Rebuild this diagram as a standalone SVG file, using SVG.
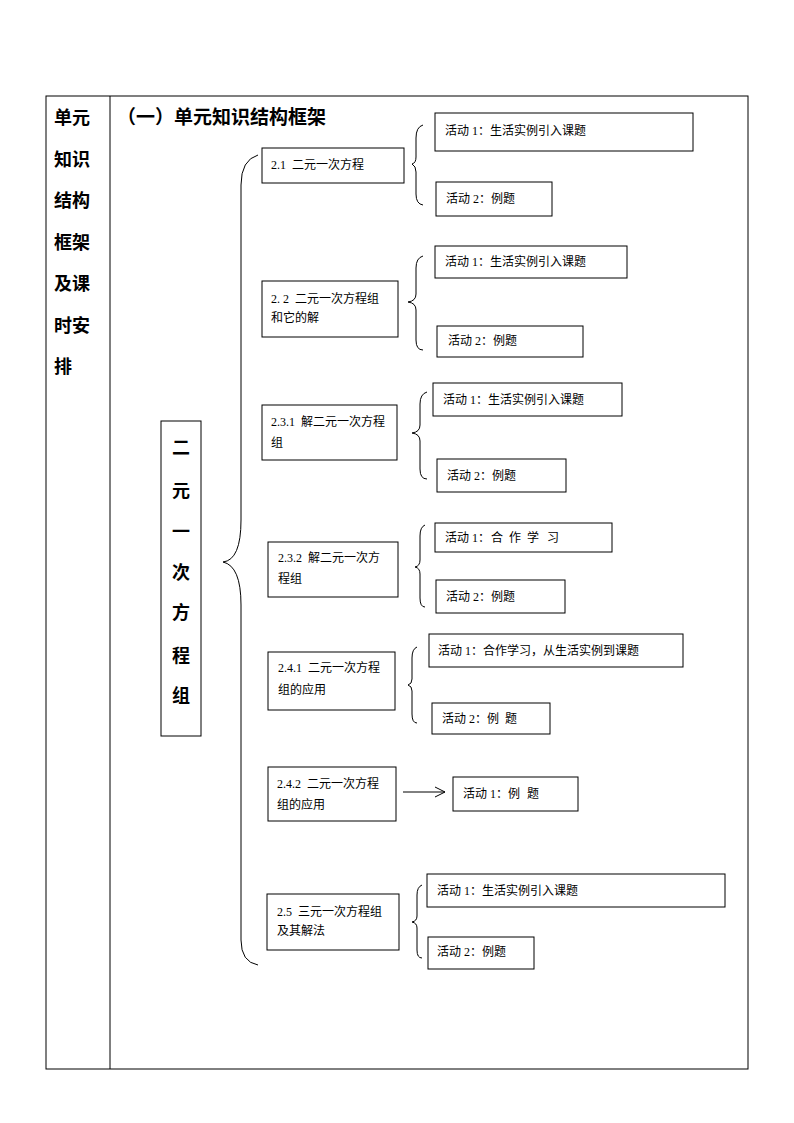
<svg xmlns="http://www.w3.org/2000/svg" width="794" height="1123" viewBox="0 0 794 1123">
<defs>
<style>
.box{fill:#fff;stroke:#000;stroke-width:1}
.ln{fill:none;stroke:#000;stroke-width:1}
.t{font-family:"Liberation Serif","Noto Sans CJK SC",serif;font-size:12px;fill:#000}
.h{font-family:"Noto Sans CJK SC",sans-serif;font-size:18px;font-weight:bold;fill:#000}
.ttl{font-family:"Noto Sans CJK SC",sans-serif;font-size:19px;font-weight:bold;fill:#000}
.m{font-family:"Noto Sans CJK SC",sans-serif;font-size:18px;font-weight:bold;fill:#000}
</style>
<marker id="arr" markerWidth="12" markerHeight="12" refX="11" refY="6" orient="auto" markerUnits="userSpaceOnUse">
<polyline points="1,1 11,6 1,11" fill="none" stroke="#000" stroke-width="1"/>
</marker>
</defs>
<rect width="794" height="1123" fill="#fff"/>
<g id="table">
<rect x="46" y="96" width="702" height="973" class="ln"/>
<line x1="110" y1="96" x2="110" y2="1069" class="ln"/>
<text class="h" x="54" y="124">单元</text>
<text class="h" x="54" y="166">知识</text>
<text class="h" x="54" y="207">结构</text>
<text class="h" x="54" y="249">框架</text>
<text class="h" x="54" y="290">及课</text>
<text class="h" x="54" y="332">时安</text>
<text class="h" x="54" y="373">排</text>
<text class="ttl" x="117" y="124">（一）单元知识结构框架</text>
</g>
<g id="connectors">
<path class="ln" d="M258,155 Q241,160 241,185 L241,520 Q241,560 223,562 Q241,566 241,605 L241,940 Q241,962 258,965"/>
<path class="ln" d="M423,125 Q416,127 416,138 L416,157 Q416,163 412,164 Q416,166 416,172 L416,194 Q416,204 423,205"/>
<path class="ln" d="M423,256 Q416,258 416,268 L416,294 Q416,301 408,302 Q416,303 416,310 L416,340 Q416,350 423,350"/>
<path class="ln" d="M427,392 Q420,394 420,404 L420,425 Q420,432 412,433 Q420,434 420,441 L420,469 Q420,479 427,479"/>
<path class="ln" d="M425,525 Q420,527 420,536 L420,560 Q420,566 415,567 Q420,568 420,574 L420,598 Q420,607 425,607"/>
<path class="ln" d="M417,647 Q412,649 412,658 L412,679 Q412,684 408,685 Q412,686 412,691 L412,714 Q412,723 417,723"/>
<path class="ln" d="M422,885 Q417,887 417,895 L417,916 Q417,921 412,922 Q417,923 417,928 L417,950 Q417,958 422,958"/>
<line x1="403" y1="792" x2="445" y2="792" class="ln" marker-end="url(#arr)"/>
</g>
<g id="root">
<rect x="161" y="421" width="40" height="315" class="box"/>
<text class="m" x="172" y="454">二</text>
<text class="m" x="172" y="497">元</text>
<text class="m" x="172" y="538">一</text>
<text class="m" x="172" y="579">次</text>
<text class="m" x="172" y="619">方</text>
<text class="m" x="172" y="662">程</text>
<text class="m" x="172" y="702">组</text>
</g>
<g id="n21">
<rect x="262" y="148" width="142" height="35" class="box"/>
<text class="t" x="271" y="169" xml:space="preserve">2.1  二元一次方程</text>
</g>
<g id="n22">
<rect x="262" y="281" width="136" height="56" class="box"/>
<text class="t" x="271" y="303" xml:space="preserve">2. 2  二元一次方程组</text>
<text class="t" x="271" y="322">和它的解</text>
</g>
<g id="n231">
<rect x="262" y="405" width="135" height="55" class="box"/>
<text class="t" x="271" y="426" xml:space="preserve">2.3.1  解二元一次方程</text>
<text class="t" x="271" y="447">组</text>
</g>
<g id="n232">
<rect x="268" y="542" width="130" height="55" class="box"/>
<text class="t" x="278" y="562" xml:space="preserve">2.3.2  解二元一次方</text>
<text class="t" x="278" y="583">程组</text>
</g>
<g id="n241">
<rect x="268" y="652" width="127" height="58" class="box"/>
<text class="t" x="278" y="672" xml:space="preserve">2.4.1  二元一次方程</text>
<text class="t" x="278" y="694">组的应用</text>
</g>
<g id="n242">
<rect x="268" y="767" width="128" height="54" class="box"/>
<text class="t" x="277" y="788" xml:space="preserve">2.4.2  二元一次方程</text>
<text class="t" x="277" y="809">组的应用</text>
</g>
<g id="n25">
<rect x="267" y="894" width="132" height="56" class="box"/>
<text class="t" x="277" y="916" xml:space="preserve">2.5  三元一次方程组</text>
<text class="t" x="277" y="935">及其解法</text>
</g>
<g id="a21-1"><rect x="435" y="113" width="258" height="38" class="box"/><text class="t" x="445" y="135">活动 1：生活实例引入课题</text></g>
<g id="a21-2"><rect x="436" y="182" width="116" height="34" class="box"/><text class="t" x="446" y="203">活动 2：例题</text></g>
<g id="a22-1"><rect x="435" y="246" width="192" height="32" class="box"/><text class="t" x="445" y="266">活动 1：生活实例引入课题</text></g>
<g id="a22-2"><rect x="437" y="326" width="146" height="31" class="box"/><text class="t" x="448" y="345">活动 2：例题</text></g>
<g id="a231-1"><rect x="433" y="383" width="189" height="33" class="box"/><text class="t" x="443" y="404">活动 1：生活实例引入课题</text></g>
<g id="a231-2"><rect x="437" y="459" width="129" height="33" class="box"/><text class="t" x="447" y="480">活动 2：例题</text></g>
<g id="a232-1"><rect x="435" y="523" width="177" height="29" class="box"/><text class="t" x="445" y="542">活动 1：<tspan x="491">合</tspan><tspan x="509">作</tspan><tspan x="527">学</tspan><tspan x="547">习</tspan></text></g>
<g id="a232-2"><rect x="436" y="580" width="129" height="33" class="box"/><text class="t" x="446" y="601">活动 2：例题</text></g>
<g id="a241-1"><rect x="429" y="634" width="254" height="33" class="box"/><text class="t" x="438" y="655">活动 1：合作学习，从生活实例到课题</text></g>
<g id="a241-2"><rect x="432" y="703" width="118" height="31" class="box"/><text class="t" x="442" y="723">活动 2：例<tspan x="505">题</tspan></text></g>
<g id="a242-1"><rect x="453" y="777" width="125" height="34" class="box"/><text class="t" x="463" y="798">活动 1：例<tspan x="527">题</tspan></text></g>
<g id="a25-1"><rect x="427" y="874" width="298" height="33" class="box"/><text class="t" x="437" y="895">活动 1：生活实例引入课题</text></g>
<g id="a25-2"><rect x="428" y="937" width="106" height="32" class="box"/><text class="t" x="437" y="956">活动 2：例题</text></g>
</svg>
